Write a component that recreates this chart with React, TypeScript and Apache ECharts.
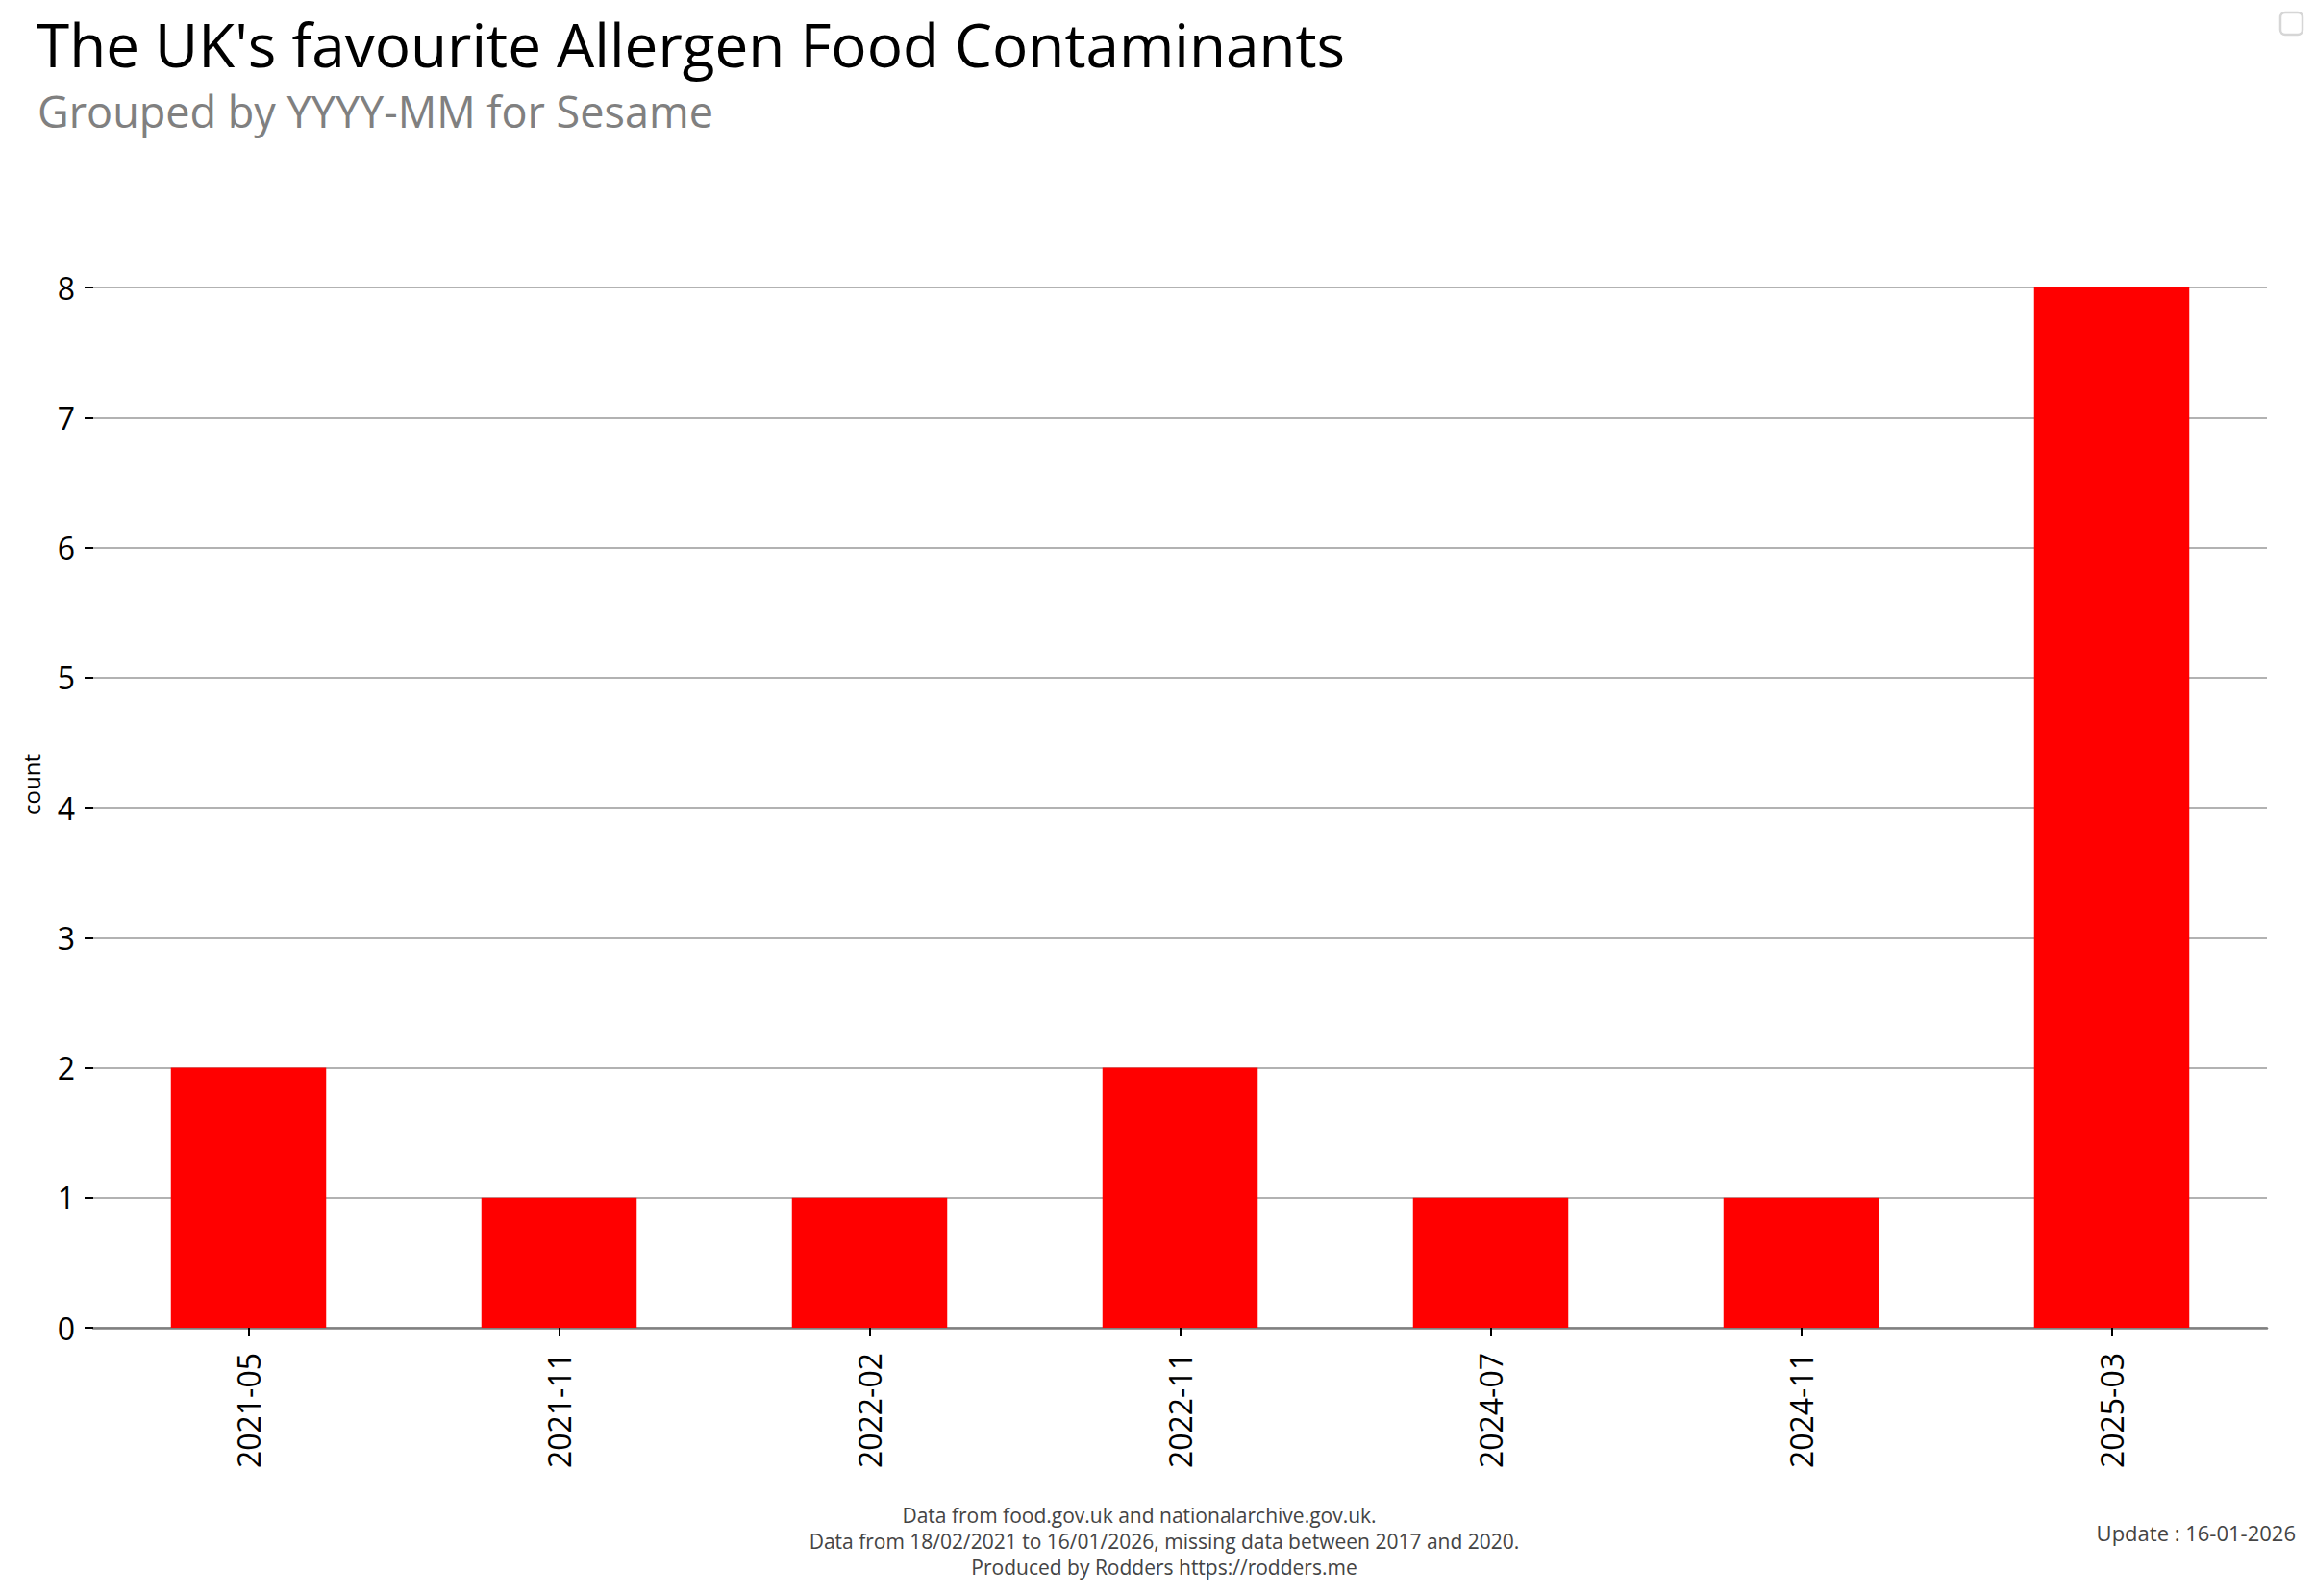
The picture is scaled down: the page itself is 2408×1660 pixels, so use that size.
import React, { useEffect, useRef } from "react";
import * as echarts from "echarts";

const categories = ["2021-05", "2021-11", "2022-02", "2022-11", "2024-07", "2024-11", "2025-03"];
const counts = [2, 1, 1, 2, 1, 1, 8];
const yTicks = { min: 0, max: 8, interval: 1 };

const titleText = "The UK's favourite Allergen Food Contaminants";
const subtitleText = "Grouped by YYYY-MM for Sesame";
const footerLines = [
  "Data from food.gov.uk and nationalarchive.gov.uk.",
  "Data from 18/02/2021 to 16/01/2026, missing data between 2017 and 2020.",
  "Produced by Rodders https://rodders.me",
];
const updateText = "Update : 16-01-2026";

const FONT = "'Open Sans', 'Noto Sans', sans-serif";

export default function App() {
  const ref = useRef<HTMLDivElement>(null);
  useEffect(() => {
    document.body.style.margin = "0";
    const chart = echarts.init(ref.current!, null, { renderer: "svg" });
    const footStyle = { fontSize: 21, fill: "#444444", fontFamily: FONT, textAlign: "center", textVerticalAlign: "middle" };
    chart.setOption({
      animation: false,
      backgroundColor: "#ffffff",
      textStyle: { fontFamily: FONT },
      title: [
        {
          text: titleText,
          left: 33,
          top: 10,
          textStyle: { fontFamily: FONT, fontSize: 62, fontWeight: "normal", color: "#000000" },
        },
        {
          text: subtitleText,
          left: 34,
          top: 88,
          textStyle: { fontFamily: FONT, fontSize: 45, fontWeight: "normal", color: "#808080" },
        },
      ],
      grid: { left: 97, right: 50, top: 299, bottom: 279, containLabel: false },
      xAxis: {
        type: "category",
        data: categories,
        axisLine: { show: true, lineStyle: { color: "#808080", width: 2.5 } },
        axisTick: { show: true, alignWithLabel: true, length: 9, lineStyle: { color: "#000000", width: 2 } },
        axisLabel: { rotate: 90, margin: 26, fontSize: 32, color: "#000000", fontFamily: FONT },
        splitLine: { show: false },
      },
      yAxis: {
        type: "value",
        min: yTicks.min,
        max: yTicks.max,
        interval: yTicks.interval,
        axisLine: { show: false },
        axisTick: { show: true, length: 9, lineStyle: { color: "#000000", width: 2 } },
        axisLabel: { margin: 19, fontSize: 32, color: "#000000", fontFamily: FONT },
        splitLine: { show: true, lineStyle: { color: "#999999", width: 1.5 } },
      },
      series: [
        {
          type: "bar",
          data: counts,
          barWidth: "50%",
          itemStyle: { color: "#ff0000" },
        },
      ],
      graphic: [
        {
          type: "text",
          x: 32,
          y: 816,
          rotation: Math.PI / 2,
          style: { text: "count", fontSize: 24, fill: "#000000", fontFamily: FONT, textAlign: "center", textVerticalAlign: "middle" },
        },
        { type: "text", x: 1185, y: 1576, style: { ...footStyle, text: footerLines[0] } },
        { type: "text", x: 1211, y: 1603, style: { ...footStyle, text: footerLines[1] } },
        { type: "text", x: 1211, y: 1630, style: { ...footStyle, text: footerLines[2] } },
        {
          type: "text",
          x: 2388,
          y: 1594,
          style: { text: updateText, fontSize: 22, fill: "#444444", fontFamily: FONT, textAlign: "right", textVerticalAlign: "middle" },
        },
        {
          type: "rect",
          shape: { x: 2372, y: 13, width: 23, height: 23, r: 5 },
          style: { fill: "#ffffff", stroke: "#d6d6d6", lineWidth: 2.5 },
        },
      ],
    });
    return () => chart.dispose();
  }, []);
  return <div ref={ref} style={{ width: 2408, height: 1660 }} />;
}
